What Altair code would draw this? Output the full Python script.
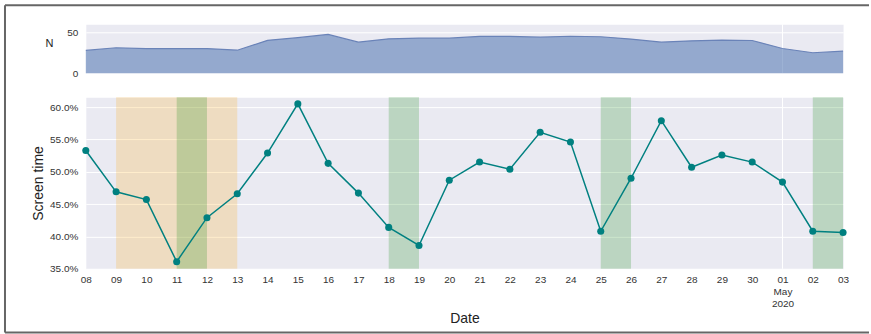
import altair as alt
import pandas as pd

DATES = ["2020-04-08", "2020-04-09", "2020-04-10", "2020-04-11", "2020-04-12", "2020-04-13",
         "2020-04-14", "2020-04-15", "2020-04-16", "2020-04-17", "2020-04-18", "2020-04-19",
         "2020-04-20", "2020-04-21", "2020-04-22", "2020-04-23", "2020-04-24", "2020-04-25",
         "2020-04-26", "2020-04-27", "2020-04-28", "2020-04-29", "2020-04-30", "2020-05-01",
         "2020-05-02", "2020-05-03"]
SCREEN_TIME = [53.3, 46.9, 45.7, 36.1, 42.9, 46.6, 52.9, 60.5, 51.3, 46.7, 41.4, 38.6, 48.7,
               51.5, 50.4, 56.1, 54.6, 40.8, 49.0, 57.9, 50.7, 52.6, 51.5, 48.4, 40.8, 40.6]
N_USERS = [27.7, 31, 30, 30, 30, 28, 40, 43.3, 47.2, 37.8, 41.9, 42.7, 42.7, 44.8, 44.8, 43.9,
           45, 44.4, 41.5, 37.8, 39.4, 40.3, 39.8, 30.1, 24.9, 26.8]
ORANGE_START = ["2020-04-09"]
ORANGE_END = ["2020-04-13"]
GREEN_START = ["2020-04-11", "2020-04-18", "2020-04-25", "2020-05-02"]
GREEN_END = ["2020-04-12", "2020-04-19", "2020-04-26", "2020-05-03"]
GRID_DATES = ["2020-05-01"]
SCREEN_TICKS = [0.35, 0.40, 0.45, 0.50, 0.55, 0.60]
N_TICKS = [0, 50]

df = pd.DataFrame({"date": DATES, "screen": [v / 100 for v in SCREEN_TIME], "n": N_USERS})
orange = pd.DataFrame({"start": ORANGE_START, "end": ORANGE_END})
green = pd.DataFrame({"start": GREEN_START, "end": GREEN_END})
grid = pd.DataFrame({"date": GRID_DATES})

W = 759
TOP_H = 49
BOT_H = 172
FONT = "Liberation Sans"
FRAME = "#666666"

xscale = alt.Scale(type="utc", nice=False, padding=0)

label_expr = ("utcdate(datum.value) == 1 ? [utcFormat(datum.value, '%d'), utcFormat(datum.value, '%b'), "
              "utcFormat(datum.value, '%Y')] : utcFormat(datum.value, '%d')")

X_AXIS = alt.Axis(tickCount={"interval": "day", "step": 1}, labelExpr=label_expr, grid=False,
                  labelPadding=6, labelLineHeight=12, labelFontSize=10,
                  titleFontSize=14, titleY=50, titleBaseline="middle",
                  labelFlush=False, labelOverlap=False, labelBound=False)
x_bottom = alt.X("date:T", scale=xscale, title="Date", axis=X_AXIS)

Y_AXIS = alt.Axis(values=SCREEN_TICKS, format=".1%", title="Screen time",
                  titleAngle=270, titleX=-47, titleY=BOT_H / 2,
                  titleAlign="center", titleBaseline="middle", titleFontSize=14,
                  labelPadding=8, labelFontSize=10, labelOverlap=False, labelBound=False)
y_bottom = alt.Y("screen:Q", scale=alt.Scale(domain=[0.35, 0.6154], nice=False), axis=Y_AXIS)

N_AXIS = alt.Axis(values=N_TICKS, title="N", titleAngle=0, titleX=-37, titleY=19,
                  titleAlign="center", titleBaseline="middle", titleFontSize=11,
                  labelPadding=8, labelFontSize=10, labelOverlap=False)
y_top = alt.Y("n:Q", scale=alt.Scale(domain=[0, 59.5], nice=False), axis=N_AXIS)
x_top = alt.X("date:T", scale=xscale, axis=None)

# ---------- top panel ----------
top_grid = alt.Chart(grid).mark_rule(color="white", strokeWidth=1).encode(x=x_top)
top_area = alt.Chart(df).mark_area(color="#4C72B0", opacity=0.55).encode(x=x_top, y=y_top)
top_line = alt.Chart(df).mark_line(color="#6a83b8", strokeWidth=1.2).encode(x=x_top, y=y_top)
frame_top = alt.Chart(grid).mark_rule(color=FRAME, strokeWidth=2).encode(
    x=alt.value(-81), x2=alt.value(785), y=alt.value(-19))
frame_left = alt.Chart(grid).mark_rule(color=FRAME, strokeWidth=2).encode(
    x=alt.value(-81), y=alt.value(-19), y2=alt.value(309))

top = alt.layer(top_grid, top_area, top_line, frame_top, frame_left).properties(width=W, height=TOP_H)

# ---------- bottom panel ----------
bot_line = alt.Chart(df).mark_line(color="#008080", strokeWidth=1.5).encode(x=x_bottom, y=y_bottom)
bot_grid = alt.Chart(grid).mark_rule(color="white", strokeWidth=1).encode(x=x_bottom)
bot_orange = alt.Chart(orange).mark_rect(color="orange", opacity=0.2).encode(
    x=alt.X("start:T", scale=xscale, axis=X_AXIS, title="Date"), x2="end:T",
    y=alt.value(0), y2=alt.value(BOT_H))
bot_green = alt.Chart(green).mark_rect(color="green", opacity=0.2).encode(
    x=alt.X("start:T", scale=xscale, axis=X_AXIS, title="Date"), x2="end:T",
    y=alt.value(0), y2=alt.value(BOT_H))
bot_pts = alt.Chart(df).mark_circle(color="#008080", size=50, opacity=1).encode(x=x_bottom, y=y_bottom)
frame_bottom = alt.Chart(grid).mark_rule(color=FRAME, strokeWidth=2).encode(
    x=alt.value(-81), x2=alt.value(785), y=alt.value(236))

bottom = alt.layer(bot_grid, bot_orange, bot_green, bot_line, bot_pts, frame_bottom).properties(
    width=W, height=BOT_H)

chart = alt.vconcat(top, bottom, spacing=24, bounds="flush").resolve_scale(x="shared").properties(
    padding={"left": 3, "top": 3, "right": 0, "bottom": 0}, background="white"
).configure_view(fill="#EAEAF2", stroke="transparent").configure_axis(
    domain=False, ticks=False, gridColor="white", gridWidth=1,
    labelColor="#333333", titleColor="#222222", labelFont=FONT, titleFont=FONT,
    titleFontWeight="normal", labelOverlap=False
)

chart.save("out.html", embed_options={"renderer": "svg", "actions": False})
